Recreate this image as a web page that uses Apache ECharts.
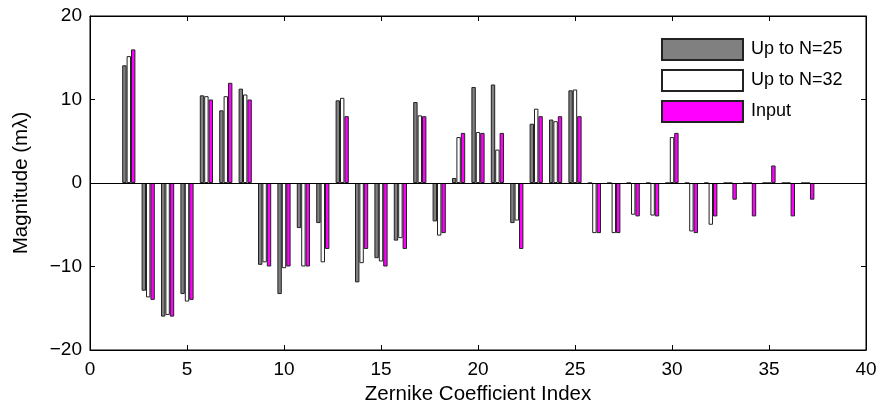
<!DOCTYPE html>
<html>
<head>
<meta charset="utf-8">
<script src="https://cdn.jsdelivr.net/npm/echarts@6/dist/echarts.min.js"></script>
<style>
html, body { margin: 0; padding: 0; background: #fff; }
#root { width: 882px; height: 411px; }
</style>
</head>
<body>
<div id="root"></div>
<script>
// Zernike coefficient indices 2..37
const indices = [2,3,4,5,6,7,8,9,10,11,12,13,14,15,16,17,18,19,20,21,22,23,24,25,26,27,28,29,30,31,32,33,34,35,36,37];
const upTo25 = [14.1,-12.9,-16.0,-13.3,10.5,8.7,11.3,-9.8,-13.3,-5.4,-4.8,9.9,-11.9,-9.0,-6.9,9.7,-4.6,0.6,11.5,11.8,-4.8,7.1,7.6,11.1,0,0,0,0,0,0,0,0,0,0,0,0];
const upTo32 = [15.2,-13.7,-15.8,-14.2,10.4,10.4,10.6,-9.5,-10.2,-10.0,-9.5,10.2,-9.6,-9.4,-6.6,8.1,-6.3,5.5,6.1,4.0,-4.5,8.9,7.4,11.2,-6.0,-6.0,-3.8,-3.9,5.5,-5.8,-5.0,0,0,0,0,0];
const input = [16.0,-14.0,-16.0,-14.0,10.0,12.0,10.0,-10.0,-10.0,-10.0,-7.9,8.0,-7.9,-10.0,-7.9,8.0,-6.0,6.0,6.0,6.0,-7.9,8.0,8.0,8.0,-6.0,-6.0,-4.0,-4.0,6.0,-6.0,-4.0,-2.0,-4.0,2.1,-4.0,-2.0];
const xTicks = [0,5,10,15,20,25,30,35,40];
const yTicks = [-20,-10,0,10,20];

const font = 'Liberation Sans, Arial, sans-serif';
const pair = arr => indices.map((x, i) => [x, arr[i]]);

let root = document.getElementById('root');
let myChart = echarts.init(root);

const axisBase = {
  type: 'value',
  axisLine: { show: true, onZero: false, lineStyle: { color: '#000', width: 1 } },
  axisTick: { show: true, inside: true, length: 5, lineStyle: { color: '#000' } },
  splitLine: { show: false }
};

function barSeries(name, data, color) {
  return {
    name: name,
    type: 'bar',
    data: pair(data),
    barWidth: 4.4,
    barGap: '0%',
    itemStyle: { color: color, borderColor: '#222', borderWidth: 1 },
    emphasis: { disabled: true }
  };
}

let series = [
  barSeries('Up to N=25', upTo25, '#808080'),
  barSeries('Up to N=32', upTo32, '#ffffff'),
  barSeries('Input', input, '#ff00ff')
];
series[2].markLine = {
  silent: true,
  symbol: 'none',
  label: { show: false },
  lineStyle: { color: '#000', width: 1, type: 'solid' },
  data: [{ yAxis: 0 }]
};

let option = {
  animation: false,
  backgroundColor: '#fff',
  grid: { left: 90, right: 16, top: 16, bottom: 61, show: true, borderColor: '#000', borderWidth: 1 },
  legend: {
    left: 656, top: 33, orient: 'vertical', icon: 'rect',
    itemWidth: 81, itemHeight: 21, itemGap: 8,
    textStyle: { fontFamily: font, fontSize: 18, color: '#000', padding: [0, 0, 0, 3] },
    data: ['Up to N=25', 'Up to N=32', 'Input']
  },
  xAxis: [
    Object.assign({}, axisBase, {
      min: 0, max: 40, interval: 5, position: 'bottom',
      name: 'Zernike Coefficient Index', nameLocation: 'middle', nameGap: 34,
      nameTextStyle: { fontFamily: font, fontSize: 20.5, color: '#000' },
      axisLabel: { fontFamily: font, fontSize: 19, color: '#000', margin: 10,
        formatter: v => xTicks.includes(v) ? String(v) : '' }
    }),
    Object.assign({}, axisBase, {
      min: 0, max: 40, interval: 5, position: 'top', axisLabel: { show: false }
    })
  ],
  yAxis: [
    Object.assign({}, axisBase, {
      min: -20, max: 20, interval: 10, position: 'left',
      name: 'Magnitude (m\u03bb)', nameLocation: 'middle', nameGap: 58, nameRotate: 90,
      nameTextStyle: { fontFamily: font, fontSize: 20.5, color: '#000' },
      axisLabel: { fontFamily: font, fontSize: 19, color: '#000', margin: 8,
        formatter: v => yTicks.includes(v) ? (v < 0 ? '\u2212' + Math.abs(v) : String(v)) : '' }
    }),
    Object.assign({}, axisBase, {
      min: -20, max: 20, interval: 10, position: 'right', axisLabel: { show: false }
    })
  ],
  series: series
};
myChart.setOption(option);
</script>
</body>
</html>
